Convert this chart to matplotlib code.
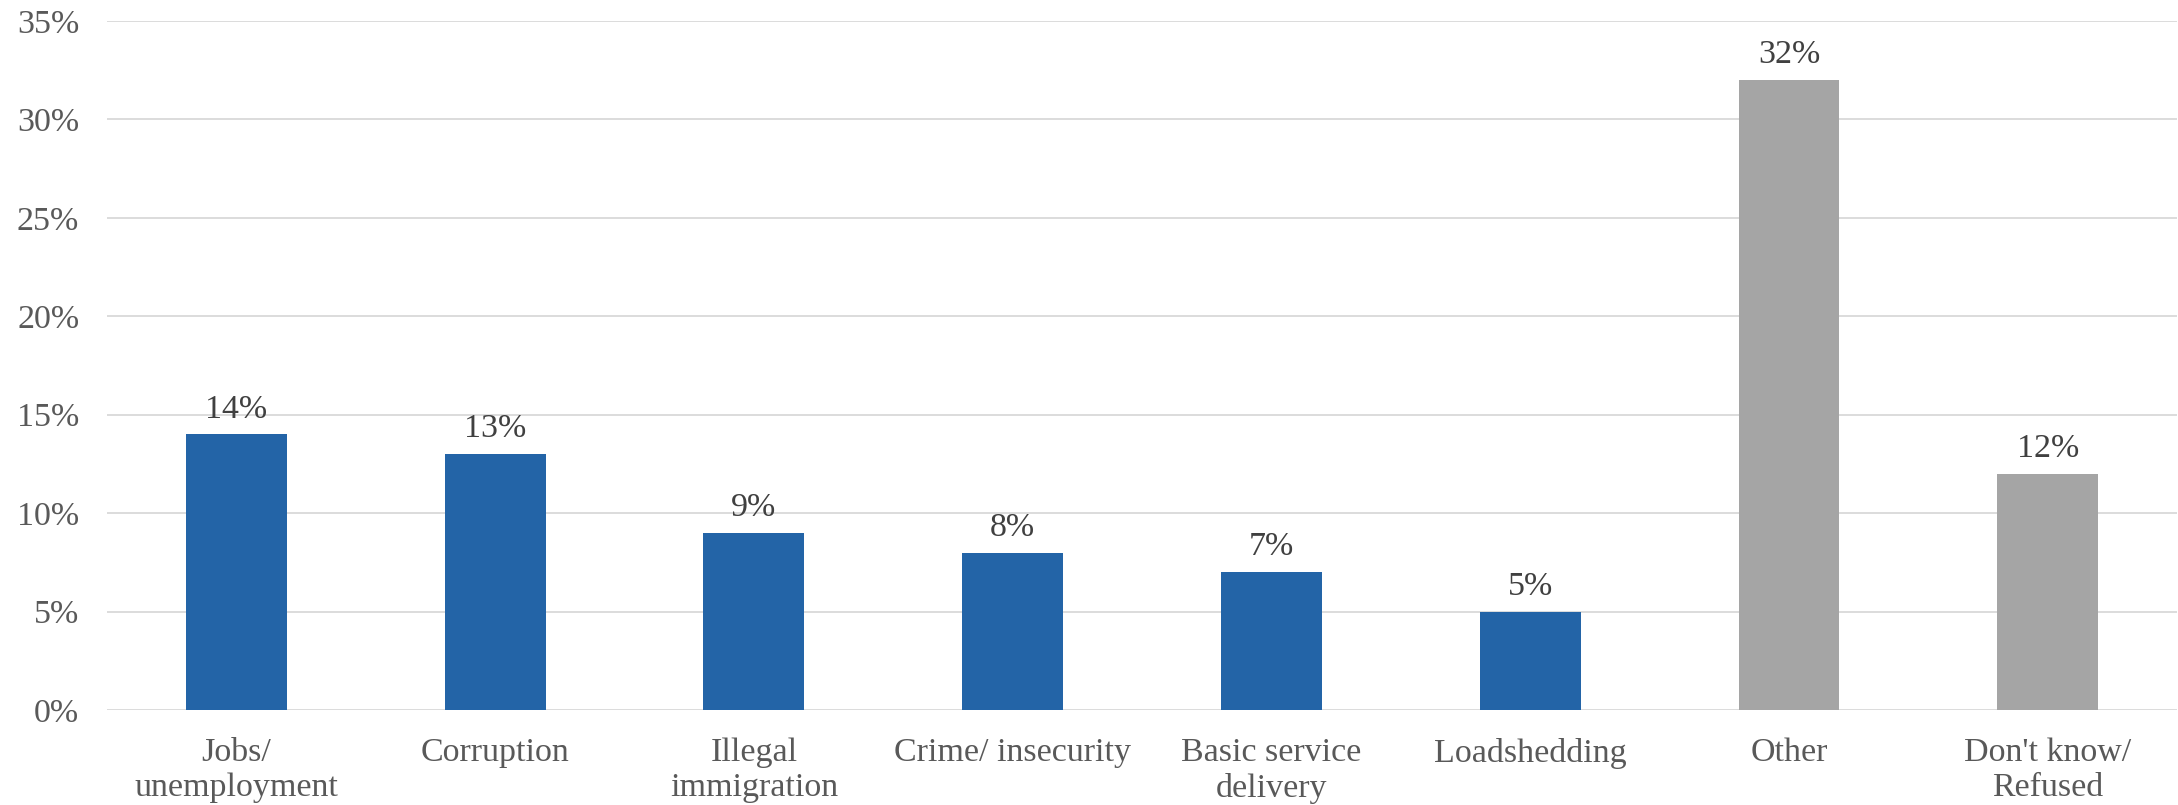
import numpy as np
import matplotlib
matplotlib.use("Agg")
import matplotlib.pyplot as plt

# survey answers, share of respondents
categories = ["Jobs/\nunemployment", "Corruption", "Illegal\nimmigration", "Crime/ insecurity",
              "Basic service\ndelivery", "Loadshedding", "Other", "Don't know/\nRefused"]
values = [14, 13, 9, 8, 7, 5, 32, 12]
bar_colors = ["#2364A7"] * 6 + ["#A5A5A5"] * 2

plt.rcParams['font.family'] = ['Liberation Serif', 'DejaVu Serif']

fig = plt.figure(figsize=(21.78, 8.05), dpi=100)
ax = fig.add_axes([0.0491, 0.118, 0.9505, 0.856])

x = np.arange(len(categories))
bars = ax.bar(x, np.array(values) / 100, width=0.39, color=bar_colors, zorder=3)

for b, v in zip(bars, values):
    ax.annotate("{}%".format(v), (b.get_x() + b.get_width() / 2, b.get_height()),
                textcoords="offset points", xytext=(0, 7), ha='center', va='bottom',
                fontsize=24.5, color='#404040')

ax.set_xlim(-0.5, len(categories) - 0.5)
ax.set_ylim(0, 0.35)
ax.set_yticks(np.arange(0, 0.351, 0.05))
ax.set_yticklabels(["{}%".format(int(round(t * 100))) for t in np.arange(0, 0.351, 0.05)])
ax.set_xticks(x)
ax.set_xticklabels(categories, linespacing=1.2)

ax.grid(axis='y', color='#D9D9D9', linewidth=1.3, zorder=0)
ax.set_axisbelow(True)
for s in ax.spines.values():
    s.set_visible(False)
ax.tick_params(axis='both', length=0, labelsize=24.5, labelcolor='#595959')
ax.tick_params(axis='y', pad=20)
ax.tick_params(axis='x', pad=20)

fig.savefig("out.png", dpi=100, facecolor='white')
